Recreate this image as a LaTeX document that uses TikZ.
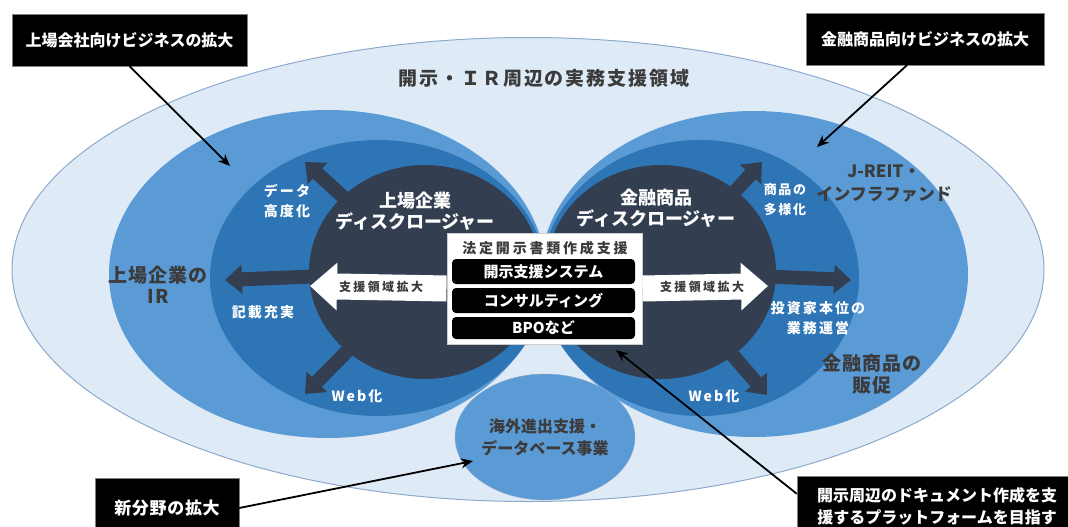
\documentclass[tikz,border=0pt]{standalone}
\usepackage{fontspec}
\setmainfont{Noto Sans CJK JP}
\usetikzlibrary{arrows.meta,shapes.geometric}
\definecolor{paleblue}{HTML}{DEEBF7}
\definecolor{rimblue}{HTML}{8EA9CC}
\definecolor{midblue}{HTML}{5B9BD5}
\definecolor{deepblue}{HTML}{2E75B6}
\definecolor{navy}{HTML}{333F50}
\definecolor{inkgray}{HTML}{3B3B3B}
\newcommand{\jpfont}[3]{\fontsize{#1}{#2}\selectfont\bfseries\addfontfeatures{LetterSpace=#3}}
\begin{document}
\begin{tikzpicture}[x=1pt,y=-1pt]
      \tikzstyle{core}=[ellipse,fill=navy,inner sep=0pt]
      \tikzstyle{spoke}=[draw=navy,line width=14pt,-{Triangle[length=17pt,width=28pt]},shorten <=90pt]
      \tikzstyle{widen}=[draw=white,line width=26pt,-{Triangle[length=27pt,width=46pt]}]
      \tikzstyle{callout}=[draw=gray,fill=black,text=white,align=center,inner sep=0pt,font=\jpfont{16}{22}{0}]
      \tikzstyle{pointer}=[draw,line width=1.8pt,-{Stealth[length=12pt,width=10pt]}]
      \tikzstyle{service}=[fill=black,rounded corners=4pt,minimum width=183pt,inner sep=0pt,text=white,font=\jpfont{15}{15}{0}]
      \tikzstyle{note}=[text=white,align=center,font=\jpfont{14}{20}{15}]
      \tikzstyle{field}=[text=inkgray,align=center,font=\jpfont{19}{22}{6}]
      \useasboundingbox (0,0) rectangle (1068,527);
      \clip (0,0) rectangle (1068,527);
      \path[fill=paleblue,draw=rimblue,line width=1pt] (528,269.5) ellipse [x radius=516pt,y radius=232pt];
      \node[text=inkgray,font=\jpfont{19}{22}{10}] (realm) at (544,78) {開示・ＩＲ周辺の実務支援領域};
      \path[fill=midblue] (327.5,274) ellipse [x radius=218.5pt,y radius=164pt];
      \path[fill=midblue] (754,274) ellipse [x radius=214pt,y radius=163pt];
      \path[fill=deepblue] (378,278) ellipse [x radius=168pt,y radius=138pt];
      \path[fill=deepblue] (700,278) ellipse [x radius=159pt,y radius=138pt];
      \node[core,minimum width=232pt,minimum height=214pt] (lcore) at (425,272) {};
      \node[core,minimum width=230pt,minimum height=214pt] (rcore) at (661,272) {};
      \coordinate (lup) at (305,162);
      \coordinate (lside) at (225,280);
      \coordinate (ldown) at (305,394);
      \coordinate (rup) at (762,162);
      \coordinate (rside) at (851,280);
      \coordinate (rdown) at (767,395);
      \path[spoke] (lcore.center) -- (lup);
      \path[spoke] (lcore.center) -- (lside);
      \path[spoke] (lcore.center) -- (ldown);
      \path[spoke] (rcore.center) -- (rup);
      \path[spoke] (rcore.center) -- (rside);
      \path[spoke] (rcore.center) -- (rdown);
      \node[ellipse,fill=midblue,draw=rimblue,minimum width=134pt,minimum height=126pt,inner sep=0pt,text=inkgray,align=center,font=\jpfont{16}{22}{0}] (sea) at (545,437) {海外進出支援・\\データベース事業};
      \node[text=white,align=center,font=\jpfont{18}{21}{0}] (ltitle) at (415,211) {上場企業\\ディスクロージャー};
      \node[text=white,align=center,font=\jpfont{18}{21}{0}] (rtitle) at (656,208) {金融商品\\ディスクロージャー};
      \node[fill=white,draw=gray!40,line width=1pt,minimum width=195pt,minimum height=111pt,inner sep=0pt] (legal) at (544.5,288.5) {};
      \coordinate (ltip) at (310,286);
      \coordinate (rtip) at (768,286);
      \path[widen] (legal.west) -- (ltip);
      \path[widen] (legal.east) -- (rtip);
      \node[text=inkgray,font=\jpfont{12}{14}{20}] (lwide) at (381,287) {支援領域拡大};
      \node[text=inkgray,font=\jpfont{12}{14}{20}] (rwide) at (702,287) {支援領域拡大};
      \node[text=inkgray,font=\jpfont{14}{16}{20}] (legaltitle) at (545,248) {法定開示書類作成支援};
      \node[service,minimum height=25pt] (sys) at (543.5,271.5) {開示支援システム};
      \node[service,minimum height=25pt] (consult) at (543.5,300.5) {コンサルティング};
      \node[service,minimum height=22pt] (bpo) at (543.5,328) {BPOなど};
      \node[note] (ldata) at (287,201) {データ\\高度化};
      \node[note] (lfill) at (263,312) {記載充実};
      \node[note] (lweb) at (357,396) {Web化};
      \node[note,font=\jpfont{13}{20}{12}] (rvar) at (785,200) {商品の\\多様化};
      \node[note] (rinv) at (818,318) {投資家本位の\\業務運営};
      \node[note] (rweb) at (714,396) {Web化};
      \node[field,font=\jpfont{19}{21}{6}] (lir) at (158,285) {上場企業の\\IR};
      \node[field,font=\jpfont{17}{23}{0}] (reit) at (884,184) {J-REIT・\\インフラファンド};
      \node[field] (promo) at (872,374) {金融商品の\\販促};
      \node[callout,minimum width=235pt,minimum height=52pt] (listed) at (129.5,40) {上場会社向けビジネスの拡大};
      \node[callout,minimum width=238pt,minimum height=52pt] (finance) at (925,39) {金融商品向けビジネスの拡大};
      \node[callout,minimum width=144pt,minimum height=60pt,font=\jpfont{17}{22}{4}] (newfield) at (167,508) {新分野の拡大};
      \node[callout,minimum width=280pt,minimum height=60pt] (platform) at (937,506) {開示周辺のドキュメント作成を支\\援するプラットフォームを目指す};
      \coordinate (p1) at (230,166);
      \coordinate (p2) at (817,147);
      \coordinate (p3) at (473,461);
      \coordinate (p4) at (616,350);
      \path[pointer] (listed.south) -- (p1);
      \path[pointer] ([xshift=-18pt]finance.south) -- (p2);
      \path[pointer] (newfield.east) -- (p3);
      \path[pointer] ([yshift=-18pt]platform.north west) -- (p4);
    \end{tikzpicture}
\end{document}
